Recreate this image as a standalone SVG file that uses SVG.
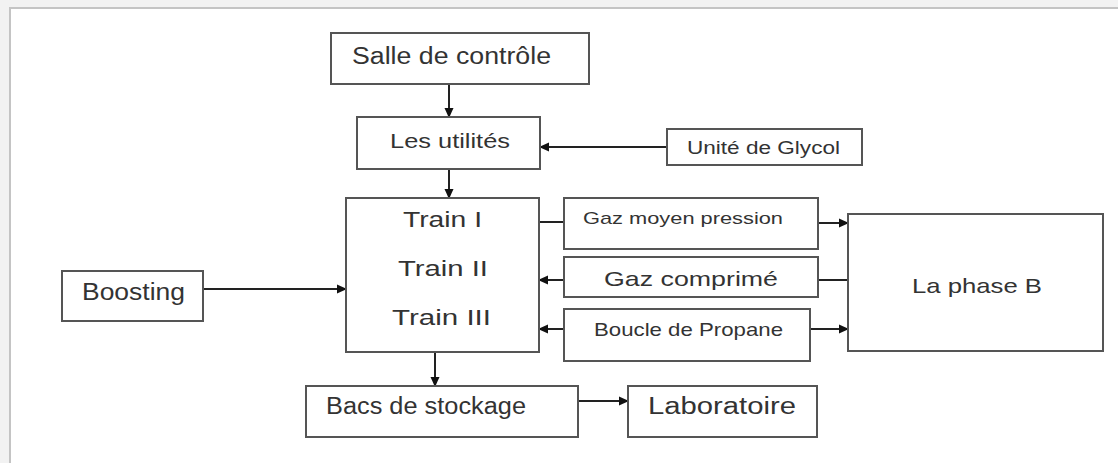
<svg xmlns="http://www.w3.org/2000/svg" width="1118" height="463" viewBox="0 0 1118 463">
<defs>
<marker id="ah" markerWidth="10" markerHeight="10" refX="9" refY="5" orient="auto" markerUnits="userSpaceOnUse">
<path d="M0,0.5 L10,5 L0,9.5 z" fill="#111"/>
</marker>
</defs>
<style>
.box{fill:#fff;stroke:#555;stroke-width:2}
.t{font-family:"Liberation Sans",Arial,sans-serif;fill:#333;dominant-baseline:central}
.c{stroke:#222;stroke-width:2;fill:none}
</style>
<rect x="0" y="0" width="1118" height="463" fill="#f2f2f2"/>
<rect x="10" y="8" width="1108" height="455" fill="#fff"/>
<path d="M10,463 V8 H1118" fill="none" stroke="#c4c4c4" stroke-width="2"/>
<g id="connectors">
<line class="c" x1="449" y1="84" x2="449" y2="117" marker-end="url(#ah)"/>
<line class="c" x1="667" y1="147" x2="540" y2="147" marker-end="url(#ah)"/>
<line class="c" x1="449" y1="169" x2="449" y2="198" marker-end="url(#ah)"/>
<line class="c" x1="203" y1="289" x2="346" y2="289" marker-end="url(#ah)"/>
<line class="c" x1="539" y1="222" x2="564" y2="222"/>
<line class="c" x1="818" y1="223" x2="848" y2="223" marker-end="url(#ah)"/>
<line class="c" x1="564" y1="280" x2="539" y2="280" marker-end="url(#ah)"/>
<line class="c" x1="818" y1="280" x2="848" y2="280"/>
<line class="c" x1="564" y1="329" x2="539" y2="329" marker-end="url(#ah)"/>
<line class="c" x1="810" y1="329" x2="848" y2="329" marker-end="url(#ah)"/>
<line class="c" x1="435" y1="352" x2="435" y2="386" marker-end="url(#ah)"/>
<line class="c" x1="578" y1="401" x2="628" y2="401" marker-end="url(#ah)"/>
</g>
<g id="salle"><rect class="box" x="331" y="33" width="258" height="51"/><text class="t" x="352" y="56" font-size="23" textLength="199" lengthAdjust="spacingAndGlyphs">Salle de contrôle</text></g>
<g id="utilites"><rect class="box" x="357" y="117" width="183" height="52"/><text class="t" x="390" y="140" font-size="21" textLength="120" lengthAdjust="spacingAndGlyphs">Les utilités</text></g>
<g id="glycol"><rect class="box" x="667" y="129" width="195" height="36"/><text class="t" x="687" y="148" font-size="18" textLength="153" lengthAdjust="spacingAndGlyphs">Unité de Glycol</text></g>
<g id="train"><rect class="box" x="346" y="198" width="193" height="154"/>
<text class="t" x="403" y="219" font-size="22" textLength="79" lengthAdjust="spacingAndGlyphs">Train I</text>
<text class="t" x="398" y="268" font-size="22" textLength="90" lengthAdjust="spacingAndGlyphs">Train II</text>
<text class="t" x="392" y="317" font-size="22" textLength="99" lengthAdjust="spacingAndGlyphs">Train III</text></g>
<g id="boosting"><rect class="box" x="62" y="271" width="141" height="50"/><text class="t" x="82" y="292" font-size="23" textLength="103" lengthAdjust="spacingAndGlyphs">Boosting</text></g>
<g id="gmp"><rect class="box" x="564" y="198" width="254" height="51"/><text class="t" x="583" y="218" font-size="17" textLength="200" lengthAdjust="spacingAndGlyphs">Gaz moyen pression</text></g>
<g id="gc"><rect class="box" x="564" y="257" width="254" height="40"/><text class="t" x="604" y="278" font-size="21" textLength="174" lengthAdjust="spacingAndGlyphs">Gaz comprimé</text></g>
<g id="bp"><rect class="box" x="564" y="309" width="246" height="52"/><text class="t" x="594" y="329" font-size="19" textLength="189" lengthAdjust="spacingAndGlyphs">Boucle de Propane</text></g>
<g id="phaseb"><rect class="box" x="848" y="214" width="255" height="137"/><text class="t" x="912" y="285" font-size="21" textLength="130" lengthAdjust="spacingAndGlyphs">La phase B</text></g>
<g id="bacs"><rect class="box" x="306" y="386" width="272" height="51"/><text class="t" x="326" y="406" font-size="23" textLength="200" lengthAdjust="spacingAndGlyphs">Bacs de stockage</text></g>
<g id="labo"><rect class="box" x="628" y="386" width="189" height="51"/><text class="t" x="648" y="406" font-size="23" textLength="148" lengthAdjust="spacingAndGlyphs">Laboratoire</text></g>
</svg>
